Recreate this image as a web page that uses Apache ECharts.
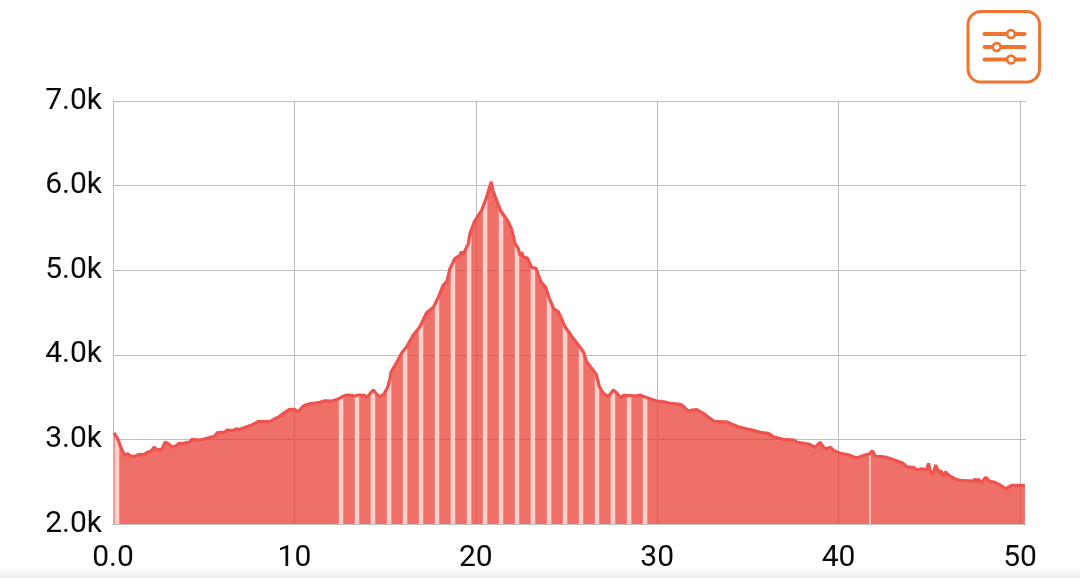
<!DOCTYPE html>
<html><head><meta charset="utf-8">
<style>html,body{margin:0;padding:0;background:#fff}#c{width:1080px;height:578px}</style>
<script src="https://cdn.jsdelivr.net/npm/echarts@6/dist/echarts.min.js"></script>
</head><body><div id="c"></div>
<script>
const xs=[0.06,0.17,0.29,0.42,0.53,0.66,0.79,0.98,1.21,1.39,1.67,1.95,2.13,2.26,2.41,2.68,2.87,3.05,3.29,3.51,3.65,3.91,4.21,4.35,4.80,5.17,5.62,5.75,6.17,6.30,6.60,6.78,7.00,7.37,7.65,8.01,8.65,8.93,9.11,9.39,9.72,10.03,10.21,10.49,10.77,11.41,11.69,12.06,12.42,12.79,13.06,13.34,13.52,13.84,13.99,14.21,14.35,14.54,14.72,14.94,15.14,15.27,15.33,15.64,15.92,16.19,16.55,16.92,17.29,17.47,17.66,17.99,18.18,18.40,18.58,18.85,19.13,19.20,19.31,19.59,19.68,19.92,20.33,20.60,20.85,20.96,21.37,21.79,21.98,22.16,22.34,22.44,22.53,22.62,22.86,23.08,23.32,23.39,23.59,23.85,24.05,24.31,24.55,24.92,25.37,25.93,26.11,26.63,26.81,27.03,27.30,27.58,27.76,27.99,28.13,28.59,28.77,29.05,29.51,29.97,30.24,30.71,31.26,31.44,31.71,31.90,32.18,32.54,33.09,33.28,33.83,34.47,35.03,35.39,35.76,36.12,36.40,36.95,37.54,37.72,38.33,38.70,38.97,39.25,39.56,39.74,40.07,40.53,41.00,41.45,41.69,41.86,42.01,42.47,42.65,43.56,43.75,44.12,44.34,44.58,44.86,44.95,45.09,45.22,45.35,45.55,45.64,45.77,45.90,46.05,46.42,46.69,47.43,47.52,47.61,47.70,47.85,48.12,48.31,48.62,48.99,49.21,49.54,50.27];
const ys=[3079,3064,2993,2914,2855,2807,2831,2804,2800,2819,2819,2851,2866,2907,2883,2878,2966,2949,2907,2930,2954,2954,2969,3001,2993,3013,3040,3079,3087,3111,3103,3123,3119,3150,3170,3214,3209,3245,3261,3308,3356,3351,3327,3395,3418,3438,3457,3454,3478,3521,3525,3513,3525,3525,3498,3552,3584,3533,3505,3537,3616,3722,3800,3911,4025,4096,4234,4332,4498,4529,4561,4707,4817,4864,5022,5141,5176,5219,5188,5318,5436,5573,5711,5869,6046,5928,5703,5573,5483,5318,5259,5171,5212,5160,5141,5034,5022,5041,4864,4798,4668,4541,4509,4332,4195,4037,3918,3773,3623,3545,3505,3584,3552,3493,3521,3517,3513,3525,3486,3454,3450,3427,3415,3395,3332,3347,3351,3308,3221,3209,3206,3150,3119,3103,3079,3072,3032,3001,2993,2966,2946,2907,2966,2887,2907,2866,2836,2819,2780,2816,2827,2866,2804,2795,2788,2717,2677,2670,2638,2654,2638,2717,2606,2599,2697,2599,2630,2567,2618,2579,2532,2517,2508,2532,2496,2532,2488,2552,2505,2493,2449,2414,2457,2457];
const gapX=[0.22,12.57,13.45,14.33,15.22,16.10,16.98,17.86,18.74,19.63,20.51,21.39,22.27,23.15,24.04,24.92,25.80,26.68,27.56,28.45,29.33];
const thinGapX=[41.73];
const yMin=2000,yMax=7000,yStep=1000,xMin=0,xMax=50.33,xStep=10;

const curve=xs.map((x,i)=>[x,ys[i]]);
function curveAt(x){
 for(let i=1;i<xs.length;i++){
  if(x<=xs[i]){const t=(x-xs[i-1])/(xs[i]-xs[i-1]);return ys[i-1]+t*(ys[i]-ys[i-1]);}
 }
 return ys[ys.length-1];
}
function gapRenderer(half,fill){
 return function(params,api){
  const x=api.value(0);
  const pts=[[x-half,yMin],[x-half,curveAt(x-half)],[x,curveAt(x)],[x+half,curveAt(x+half)],[x+half,yMin]].map(p=>api.coord(p));
  return {type:'polygon',shape:{points:pts},style:{fill:fill},silent:true};
 };
}
const chart=echarts.init(document.getElementById('c'),null,{renderer:'canvas'});
const orange='#ee7430';
const sliderLines=[34,47,59.5];
const knobs=[1011,996.7,1011];
const graphic=[
 {type:'rect',left:0,top:566,shape:{width:1080,height:12},z:0,silent:true,
  style:{fill:new echarts.graphic.LinearGradient(0,0,0,1,[{offset:0,color:'#ffffff'},{offset:1,color:'#eeeeee'}])}},
 {type:'rect',shape:{x:968,y:11.5,width:71.5,height:70.5,r:13},z:10,style:{fill:'#fff',stroke:orange,lineWidth:3}}
];
sliderLines.forEach((y,i)=>{
 graphic.push({type:'line',shape:{x1:984.5,y1:y,x2:1024.5,y2:y},z:11,style:{stroke:orange,lineWidth:4,lineCap:'round'}});
 graphic.push({type:'circle',shape:{cx:knobs[i],cy:y,r:3.9},z:12,style:{fill:'#fff',stroke:orange,lineWidth:2.6}});
});
const labelFont={color:'#0a0a0a',fontFamily:'Roboto',fontSize:30};
chart.setOption({
 animation:false,
 grid:{left:113,right:54,top:101,bottom:54,containLabel:false},
 graphic:graphic,
 xAxis:{type:'value',min:xMin,max:xMax,interval:xStep,
  axisLine:{show:true,lineStyle:{color:'#bdbdbd',width:1}},axisTick:{show:false},
  splitLine:{show:true,showMinLine:true,showMaxLine:false,lineStyle:{color:'#bdbdbd',width:1}},
  axisLabel:Object.assign({margin:19,showMaxLabel:false,hideOverlap:false,formatter:v=>v===0?'0.0':String(v)},labelFont)},
 yAxis:{type:'value',min:yMin,max:yMax,interval:yStep,
  axisLine:{show:true,lineStyle:{color:'#bdbdbd',width:1}},axisTick:{show:false},
  splitLine:{show:true,lineStyle:{color:'#bdbdbd',width:1}},
  axisLabel:Object.assign({margin:11,padding:[7,0,0,0],formatter:v=>(v/1000).toFixed(1)+'k'},labelFont)},
 series:[
  {type:'line',data:curve,symbol:'none',silent:true,z:2,lineStyle:{width:0},
   areaStyle:{color:'#e8392f',opacity:0.72}},
  {type:'custom',data:gapX.map(x=>[x]),encode:{x:0},silent:true,z:3,
   renderItem:gapRenderer(0.125,'rgba(255,255,255,0.68)')},
  {type:'custom',data:thinGapX.map(x=>[x]),encode:{x:0},silent:true,z:3,
   renderItem:gapRenderer(0.04,'rgba(255,255,255,0.75)')},
  {type:'line',data:curve,symbol:'none',silent:true,z:4,lineStyle:{color:'#ef5350',width:3.2}}
 ]
});
</script></body></html>
